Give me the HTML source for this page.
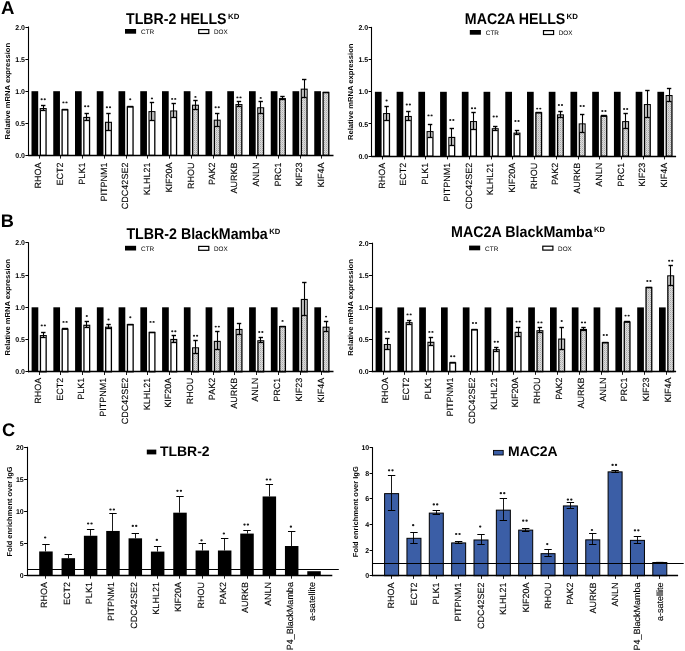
<!DOCTYPE html>
<html><head><meta charset="utf-8"><title>Figure</title>
<style>
html,body{margin:0;padding:0;background:#fff;}
body{width:685px;height:651px;overflow:hidden;}
svg{display:block;font-family:"Liberation Sans", sans-serif;will-change:transform;text-rendering:geometricPrecision;}
</style></head><body>
<svg width="685" height="651" viewBox="0 0 685 651" font-family='"Liberation Sans", sans-serif'>
<defs>
<pattern id="hatch" width="2" height="2" patternUnits="userSpaceOnUse">
<rect width="2" height="2" fill="#dcdcdc"/><rect width="1" height="1" fill="#aaaaaa"/><rect x="1" y="1" width="1" height="1" fill="#c4c4c4"/>
</pattern>
</defs>
<rect width="685" height="651" fill="#fff"/>
<line x1="28.5" y1="26.5" x2="28.5" y2="155.9" stroke="#000" stroke-width="1.1"/>
<line x1="25.4" y1="155.5" x2="28.6" y2="155.5" stroke="#000" stroke-width="1"/>
<text x="25" y="157.9" font-size="7" font-weight="bold" text-anchor="end" fill="#000" >0.0</text>
<line x1="25.4" y1="123.5" x2="28.6" y2="123.5" stroke="#000" stroke-width="1"/>
<text x="25" y="125.8" font-size="7" font-weight="bold" text-anchor="end" fill="#000" >0.5</text>
<line x1="25.4" y1="91.5" x2="28.6" y2="91.5" stroke="#000" stroke-width="1"/>
<text x="25" y="93.7" font-size="7" font-weight="bold" text-anchor="end" fill="#000" >1.0</text>
<line x1="25.4" y1="59.5" x2="28.6" y2="59.5" stroke="#000" stroke-width="1"/>
<text x="25" y="61.6" font-size="7" font-weight="bold" text-anchor="end" fill="#000" >1.5</text>
<line x1="25.4" y1="27.5" x2="28.6" y2="27.5" stroke="#000" stroke-width="1"/>
<text x="25" y="29.5" font-size="7" font-weight="bold" text-anchor="end" fill="#000" >2.0</text>
<text transform="translate(10.3,91.2) rotate(-90)" font-size="7.2" font-weight="bold" text-anchor="middle" textLength="96.5" lengthAdjust="spacingAndGlyphs">Relative mRNA expression</text>
<rect x="31.5" y="91.2" width="6.7" height="64.2" fill="#000"/>
<rect x="40.35" y="108.67" width="5.7" height="46.73" fill="#ffffff" stroke="#000" stroke-width="1.3"/>
<rect x="40.8" y="109.12" width="4.8" height="1.47" fill="#bcbcbc"/>
<line x1="43.5" y1="105.45" x2="43.5" y2="110.59" stroke="#000" stroke-width="1.1"/>
<line x1="41" y1="105.5" x2="45.4" y2="105.5" stroke="#000" stroke-width="1.4"/>
<line x1="40.7" y1="110.5" x2="45.7" y2="110.5" stroke="#000" stroke-width="1.3"/>
<line x1="39.5" y1="155.4" x2="39.5" y2="158.6" stroke="#000" stroke-width="0.9"/>
<text transform="translate(41.35,162.6) rotate(-90)" font-size="9" font-weight="normal" text-anchor="end" stroke="#000" stroke-width="0.12">RHOA</text>
<ellipse cx="41.65" cy="99.3" rx="1.1" ry="0.95" fill="#1a1a1a"/>
<ellipse cx="44.75" cy="99.3" rx="1.1" ry="0.95" fill="#1a1a1a"/>
<rect x="53.25" y="91.2" width="6.7" height="64.2" fill="#000"/>
<rect x="62.1" y="109.83" width="5.7" height="45.57" fill="#ffffff" stroke="#000" stroke-width="1.3"/>
<line x1="61.95" y1="109.5" x2="67.95" y2="109.5" stroke="#000" stroke-width="1.4"/>
<line x1="60.5" y1="155.4" x2="60.5" y2="158.6" stroke="#000" stroke-width="0.9"/>
<text transform="translate(63.1,162.6) rotate(-90)" font-size="9" font-weight="normal" text-anchor="end" stroke="#000" stroke-width="0.12">ECT2</text>
<ellipse cx="63.4" cy="102.4" rx="1.1" ry="0.95" fill="#1a1a1a"/>
<ellipse cx="66.5" cy="102.4" rx="1.1" ry="0.95" fill="#1a1a1a"/>
<rect x="75" y="91.2" width="6.7" height="64.2" fill="#000"/>
<rect x="83.85" y="117.53" width="5.7" height="37.87" fill="#ffffff" stroke="#000" stroke-width="1.3"/>
<rect x="84.3" y="117.98" width="4.8" height="2.11" fill="#bcbcbc"/>
<line x1="86.5" y1="113.67" x2="86.5" y2="120.09" stroke="#000" stroke-width="1.1"/>
<line x1="84.5" y1="113.5" x2="88.9" y2="113.5" stroke="#000" stroke-width="1.4"/>
<line x1="84.2" y1="120.5" x2="89.2" y2="120.5" stroke="#000" stroke-width="1.3"/>
<line x1="82.5" y1="155.4" x2="82.5" y2="158.6" stroke="#000" stroke-width="0.9"/>
<text transform="translate(84.85,162.6) rotate(-90)" font-size="9" font-weight="normal" text-anchor="end" stroke="#000" stroke-width="0.12">PLK1</text>
<ellipse cx="85.15" cy="106.3" rx="1.1" ry="0.95" fill="#1a1a1a"/>
<ellipse cx="88.25" cy="106.3" rx="1.1" ry="0.95" fill="#1a1a1a"/>
<rect x="96.75" y="91.2" width="6.7" height="64.2" fill="#000"/>
<rect x="105.6" y="122.41" width="5.7" height="32.99" fill="#ffffff" stroke="#000" stroke-width="1.3"/>
<rect x="106.05" y="122.86" width="4.8" height="7.25" fill="#bcbcbc"/>
<line x1="108.5" y1="113.41" x2="108.5" y2="130.11" stroke="#000" stroke-width="1.1"/>
<line x1="106.25" y1="113.5" x2="110.65" y2="113.5" stroke="#000" stroke-width="1.4"/>
<line x1="105.95" y1="130.5" x2="110.95" y2="130.5" stroke="#000" stroke-width="1.3"/>
<line x1="104.5" y1="155.4" x2="104.5" y2="158.6" stroke="#000" stroke-width="0.9"/>
<text transform="translate(106.6,162.6) rotate(-90)" font-size="9" font-weight="normal" text-anchor="end" stroke="#000" stroke-width="0.12">PITPNM1</text>
<ellipse cx="106.9" cy="107.3" rx="1.1" ry="0.95" fill="#1a1a1a"/>
<ellipse cx="110" cy="107.3" rx="1.1" ry="0.95" fill="#1a1a1a"/>
<rect x="118.5" y="91.2" width="6.7" height="64.2" fill="#000"/>
<rect x="127.35" y="106.94" width="5.7" height="48.46" fill="#ffffff" stroke="#000" stroke-width="1.3"/>
<line x1="127.2" y1="106.5" x2="133.2" y2="106.5" stroke="#000" stroke-width="1.4"/>
<line x1="126.5" y1="155.4" x2="126.5" y2="158.6" stroke="#000" stroke-width="0.9"/>
<text transform="translate(128.35,162.6) rotate(-90)" font-size="9" font-weight="normal" text-anchor="end" stroke="#000" stroke-width="0.12">CDC42SE2</text>
<ellipse cx="130.2" cy="99.3" rx="1.1" ry="0.95" fill="#1a1a1a"/>
<rect x="140.25" y="91.2" width="6.7" height="64.2" fill="#000"/>
<rect x="149.1" y="111.75" width="5.7" height="43.65" fill="#ffffff" stroke="#000" stroke-width="1.3"/>
<rect x="149.55" y="112.2" width="4.8" height="7.89" fill="#bcbcbc"/>
<line x1="151.5" y1="102.11" x2="151.5" y2="120.09" stroke="#000" stroke-width="1.1"/>
<line x1="149.75" y1="102.5" x2="154.15" y2="102.5" stroke="#000" stroke-width="1.4"/>
<line x1="149.45" y1="120.5" x2="154.45" y2="120.5" stroke="#000" stroke-width="1.3"/>
<line x1="147.5" y1="155.4" x2="147.5" y2="158.6" stroke="#000" stroke-width="0.9"/>
<text transform="translate(150.1,162.6) rotate(-90)" font-size="9" font-weight="normal" text-anchor="end" stroke="#000" stroke-width="0.12">KLHL21</text>
<ellipse cx="151.95" cy="98.4" rx="1.1" ry="0.95" fill="#1a1a1a"/>
<rect x="162" y="91.2" width="6.7" height="64.2" fill="#000"/>
<rect x="170.85" y="111.11" width="5.7" height="44.29" fill="#ffffff" stroke="#000" stroke-width="1.3"/>
<rect x="171.3" y="111.56" width="4.8" height="5.96" fill="#bcbcbc"/>
<line x1="173.5" y1="103.4" x2="173.5" y2="117.52" stroke="#000" stroke-width="1.1"/>
<line x1="171.5" y1="103.5" x2="175.9" y2="103.5" stroke="#000" stroke-width="1.4"/>
<line x1="171.2" y1="117.5" x2="176.2" y2="117.5" stroke="#000" stroke-width="1.3"/>
<line x1="169.5" y1="155.4" x2="169.5" y2="158.6" stroke="#000" stroke-width="0.9"/>
<text transform="translate(171.85,162.6) rotate(-90)" font-size="9" font-weight="normal" text-anchor="end" stroke="#000" stroke-width="0.12">KIF20A</text>
<ellipse cx="172.15" cy="98.9" rx="1.1" ry="0.95" fill="#1a1a1a"/>
<ellipse cx="175.25" cy="98.9" rx="1.1" ry="0.95" fill="#1a1a1a"/>
<rect x="183.75" y="91.2" width="6.7" height="64.2" fill="#000"/>
<rect x="192.6" y="105.33" width="5.7" height="50.07" fill="url(#hatch)" stroke="#000" stroke-width="1.3"/>
<rect x="193.05" y="105.78" width="4.8" height="3.39" fill="#bcbcbc"/>
<line x1="195.5" y1="100.19" x2="195.5" y2="109.18" stroke="#000" stroke-width="1.1"/>
<line x1="193.25" y1="100.5" x2="197.65" y2="100.5" stroke="#000" stroke-width="1.4"/>
<line x1="192.95" y1="109.5" x2="197.95" y2="109.5" stroke="#000" stroke-width="1.3"/>
<line x1="191.5" y1="155.4" x2="191.5" y2="158.6" stroke="#000" stroke-width="0.9"/>
<text transform="translate(193.6,162.6) rotate(-90)" font-size="9" font-weight="normal" text-anchor="end" stroke="#000" stroke-width="0.12">RHOU</text>
<ellipse cx="195.45" cy="96.9" rx="1.1" ry="0.95" fill="#1a1a1a"/>
<rect x="205.5" y="91.2" width="6.7" height="64.2" fill="#000"/>
<rect x="214.35" y="120.29" width="5.7" height="35.11" fill="url(#hatch)" stroke="#000" stroke-width="1.3"/>
<rect x="214.8" y="120.74" width="4.8" height="5.32" fill="#bcbcbc"/>
<line x1="217.5" y1="113.22" x2="217.5" y2="126.06" stroke="#000" stroke-width="1.1"/>
<line x1="215" y1="113.5" x2="219.4" y2="113.5" stroke="#000" stroke-width="1.4"/>
<line x1="214.7" y1="126.5" x2="219.7" y2="126.5" stroke="#000" stroke-width="1.3"/>
<line x1="213.5" y1="155.4" x2="213.5" y2="158.6" stroke="#000" stroke-width="0.9"/>
<text transform="translate(215.35,162.6) rotate(-90)" font-size="9" font-weight="normal" text-anchor="end" stroke="#000" stroke-width="0.12">PAK2</text>
<ellipse cx="215.65" cy="107.3" rx="1.1" ry="0.95" fill="#1a1a1a"/>
<ellipse cx="218.75" cy="107.3" rx="1.1" ry="0.95" fill="#1a1a1a"/>
<rect x="227.25" y="91.2" width="6.7" height="64.2" fill="#000"/>
<rect x="236.1" y="104.69" width="5.7" height="50.71" fill="url(#hatch)" stroke="#000" stroke-width="1.3"/>
<rect x="236.55" y="105.14" width="4.8" height="1.15" fill="#bcbcbc"/>
<line x1="238.5" y1="101.79" x2="238.5" y2="106.29" stroke="#000" stroke-width="1.1"/>
<line x1="236.75" y1="101.5" x2="241.15" y2="101.5" stroke="#000" stroke-width="1.4"/>
<line x1="236.45" y1="106.5" x2="241.45" y2="106.5" stroke="#000" stroke-width="1.3"/>
<line x1="234.5" y1="155.4" x2="234.5" y2="158.6" stroke="#000" stroke-width="0.9"/>
<text transform="translate(237.1,162.6) rotate(-90)" font-size="9" font-weight="normal" text-anchor="end" stroke="#000" stroke-width="0.12">AURKB</text>
<ellipse cx="237.4" cy="97.4" rx="1.1" ry="0.95" fill="#1a1a1a"/>
<ellipse cx="240.5" cy="97.4" rx="1.1" ry="0.95" fill="#1a1a1a"/>
<rect x="249" y="91.2" width="6.7" height="64.2" fill="#000"/>
<rect x="257.85" y="107.9" width="5.7" height="47.5" fill="url(#hatch)" stroke="#000" stroke-width="1.3"/>
<rect x="258.3" y="108.35" width="4.8" height="4.68" fill="#bcbcbc"/>
<line x1="260.5" y1="101.47" x2="260.5" y2="113.03" stroke="#000" stroke-width="1.1"/>
<line x1="258.5" y1="101.5" x2="262.9" y2="101.5" stroke="#000" stroke-width="1.4"/>
<line x1="258.2" y1="113.5" x2="263.2" y2="113.5" stroke="#000" stroke-width="1.3"/>
<line x1="256.5" y1="155.4" x2="256.5" y2="158.6" stroke="#000" stroke-width="0.9"/>
<text transform="translate(258.85,162.6) rotate(-90)" font-size="9" font-weight="normal" text-anchor="end" stroke="#000" stroke-width="0.12">ANLN</text>
<ellipse cx="260.7" cy="97.9" rx="1.1" ry="0.95" fill="#1a1a1a"/>
<rect x="270.75" y="91.2" width="6.7" height="64.2" fill="#000"/>
<rect x="279.6" y="98.72" width="5.7" height="56.68" fill="url(#hatch)" stroke="#000" stroke-width="1.3"/>
<rect x="280.05" y="99.17" width="4.8" height="0.51" fill="#bcbcbc"/>
<line x1="282.5" y1="96.46" x2="282.5" y2="99.67" stroke="#000" stroke-width="1.1"/>
<line x1="280.25" y1="96.5" x2="284.65" y2="96.5" stroke="#000" stroke-width="1.4"/>
<line x1="279.95" y1="99.5" x2="284.95" y2="99.5" stroke="#000" stroke-width="1.3"/>
<line x1="278.5" y1="155.4" x2="278.5" y2="158.6" stroke="#000" stroke-width="0.9"/>
<text transform="translate(280.6,162.6) rotate(-90)" font-size="9" font-weight="normal" text-anchor="end" stroke="#000" stroke-width="0.12">PRC1</text>
<rect x="292.5" y="91.2" width="6.7" height="64.2" fill="#000"/>
<rect x="301.35" y="89.28" width="5.7" height="66.12" fill="url(#hatch)" stroke="#000" stroke-width="1.3"/>
<rect x="301.8" y="89.73" width="4.8" height="7.89" fill="#bcbcbc"/>
<line x1="304.5" y1="79.64" x2="304.5" y2="97.62" stroke="#000" stroke-width="1.1"/>
<line x1="302" y1="79.5" x2="306.4" y2="79.5" stroke="#000" stroke-width="1.4"/>
<line x1="301.7" y1="97.5" x2="306.7" y2="97.5" stroke="#000" stroke-width="1.3"/>
<line x1="300.5" y1="155.4" x2="300.5" y2="158.6" stroke="#000" stroke-width="0.9"/>
<text transform="translate(302.35,162.6) rotate(-90)" font-size="9" font-weight="normal" text-anchor="end" stroke="#000" stroke-width="0.12">KIF23</text>
<rect x="314.25" y="91.2" width="6.7" height="64.2" fill="#000"/>
<rect x="323.1" y="92.49" width="5.7" height="62.91" fill="url(#hatch)" stroke="#000" stroke-width="1.3"/>
<line x1="322.95" y1="92.5" x2="328.95" y2="92.5" stroke="#000" stroke-width="1.4"/>
<line x1="321.5" y1="155.4" x2="321.5" y2="158.6" stroke="#000" stroke-width="0.9"/>
<text transform="translate(324.1,162.6) rotate(-90)" font-size="9" font-weight="normal" text-anchor="end" stroke="#000" stroke-width="0.12">KIF4A</text>
<line x1="28.1" y1="155.5" x2="333.5" y2="155.5" stroke="#000" stroke-width="1.3"/>
<text x="126" y="23.6" font-size="15.5" font-weight="bold" text-anchor="start" fill="#000" textLength="100.5" lengthAdjust="spacingAndGlyphs" >TLBR-2 HELLS</text>
<text x="228.1" y="18.7" font-size="7.6" font-weight="bold" text-anchor="start" fill="#000" textLength="11.3" lengthAdjust="spacingAndGlyphs" >KD</text>
<rect x="125" y="29" width="11.1" height="4.7" fill="#000"/>
<text x="141" y="33.9" font-size="6.5" font-weight="normal" text-anchor="start" fill="#000" textLength="13.2" lengthAdjust="spacingAndGlyphs" >CTR</text>
<rect x="198.7" y="29.6" width="10.1" height="3.9" fill="#fff" stroke="#000" stroke-width="1.2"/>
<text x="214" y="33.9" font-size="6.5" font-weight="normal" text-anchor="start" fill="#000" textLength="13.7" lengthAdjust="spacingAndGlyphs" >DOX</text>
<line x1="371.5" y1="26.9" x2="371.5" y2="156.7" stroke="#000" stroke-width="1.1"/>
<line x1="368.6" y1="156.5" x2="371.8" y2="156.5" stroke="#000" stroke-width="1"/>
<text x="368.2" y="158.7" font-size="7" font-weight="bold" text-anchor="end" fill="#000" >0.0</text>
<line x1="368.6" y1="123.5" x2="371.8" y2="123.5" stroke="#000" stroke-width="1"/>
<text x="368.2" y="126.5" font-size="7" font-weight="bold" text-anchor="end" fill="#000" >0.5</text>
<line x1="368.6" y1="91.5" x2="371.8" y2="91.5" stroke="#000" stroke-width="1"/>
<text x="368.2" y="94.3" font-size="7" font-weight="bold" text-anchor="end" fill="#000" >1.0</text>
<line x1="368.6" y1="59.5" x2="371.8" y2="59.5" stroke="#000" stroke-width="1"/>
<text x="368.2" y="62.1" font-size="7" font-weight="bold" text-anchor="end" fill="#000" >1.5</text>
<line x1="368.6" y1="27.5" x2="371.8" y2="27.5" stroke="#000" stroke-width="1"/>
<text x="368.2" y="29.9" font-size="7" font-weight="bold" text-anchor="end" fill="#000" >2.0</text>
<text transform="translate(352.6,91.8) rotate(-90)" font-size="7.2" font-weight="bold" text-anchor="middle" textLength="96.5" lengthAdjust="spacingAndGlyphs">Relative mRNA expression</text>
<rect x="374.9" y="91.8" width="6.7" height="64.4" fill="#000"/>
<rect x="383.75" y="113.7" width="5.7" height="42.5" fill="#ffffff" stroke="#000" stroke-width="1.3"/>
<rect x="384.2" y="114.15" width="4.8" height="5.98" fill="#bcbcbc"/>
<line x1="386.5" y1="105.97" x2="386.5" y2="120.14" stroke="#000" stroke-width="1.1"/>
<line x1="384.4" y1="106.5" x2="388.8" y2="106.5" stroke="#000" stroke-width="1.4"/>
<line x1="384.1" y1="120.5" x2="389.1" y2="120.5" stroke="#000" stroke-width="1.3"/>
<line x1="382.5" y1="156.2" x2="382.5" y2="159.4" stroke="#000" stroke-width="0.9"/>
<text transform="translate(384.65,162.7) rotate(-90)" font-size="9" font-weight="normal" text-anchor="end" stroke="#000" stroke-width="0.12">RHOA</text>
<ellipse cx="386.6" cy="100.5" rx="1.1" ry="0.95" fill="#1a1a1a"/>
<rect x="396.63" y="91.8" width="6.7" height="64.4" fill="#000"/>
<rect x="405.48" y="116.6" width="5.7" height="39.6" fill="#ffffff" stroke="#000" stroke-width="1.3"/>
<rect x="405.93" y="117.05" width="4.8" height="3.09" fill="#bcbcbc"/>
<line x1="408.5" y1="111.76" x2="408.5" y2="120.14" stroke="#000" stroke-width="1.1"/>
<line x1="406.13" y1="111.5" x2="410.53" y2="111.5" stroke="#000" stroke-width="1.4"/>
<line x1="405.83" y1="120.5" x2="410.83" y2="120.5" stroke="#000" stroke-width="1.3"/>
<line x1="404.5" y1="156.2" x2="404.5" y2="159.4" stroke="#000" stroke-width="0.9"/>
<text transform="translate(406.38,162.7) rotate(-90)" font-size="9" font-weight="normal" text-anchor="end" stroke="#000" stroke-width="0.12">ECT2</text>
<ellipse cx="406.78" cy="104.5" rx="1.1" ry="0.95" fill="#1a1a1a"/>
<ellipse cx="409.88" cy="104.5" rx="1.1" ry="0.95" fill="#1a1a1a"/>
<rect x="418.36" y="91.8" width="6.7" height="64.4" fill="#000"/>
<rect x="427.21" y="131.73" width="5.7" height="24.47" fill="#ffffff" stroke="#000" stroke-width="1.3"/>
<rect x="427.66" y="132.18" width="4.8" height="5.34" fill="#bcbcbc"/>
<line x1="430.5" y1="124.64" x2="430.5" y2="137.52" stroke="#000" stroke-width="1.1"/>
<line x1="427.86" y1="124.5" x2="432.26" y2="124.5" stroke="#000" stroke-width="1.4"/>
<line x1="427.56" y1="137.5" x2="432.56" y2="137.5" stroke="#000" stroke-width="1.3"/>
<line x1="425.5" y1="156.2" x2="425.5" y2="159.4" stroke="#000" stroke-width="0.9"/>
<text transform="translate(428.11,162.7) rotate(-90)" font-size="9" font-weight="normal" text-anchor="end" stroke="#000" stroke-width="0.12">PLK1</text>
<ellipse cx="428.51" cy="115.4" rx="1.1" ry="0.95" fill="#1a1a1a"/>
<ellipse cx="431.61" cy="115.4" rx="1.1" ry="0.95" fill="#1a1a1a"/>
<rect x="440.09" y="91.8" width="6.7" height="64.4" fill="#000"/>
<rect x="448.94" y="137.53" width="5.7" height="18.67" fill="#ffffff" stroke="#000" stroke-width="1.3"/>
<rect x="449.39" y="137.98" width="4.8" height="7.59" fill="#bcbcbc"/>
<line x1="451.5" y1="128.19" x2="451.5" y2="145.57" stroke="#000" stroke-width="1.1"/>
<line x1="449.59" y1="128.5" x2="453.99" y2="128.5" stroke="#000" stroke-width="1.4"/>
<line x1="449.29" y1="145.5" x2="454.29" y2="145.5" stroke="#000" stroke-width="1.3"/>
<line x1="447.5" y1="156.2" x2="447.5" y2="159.4" stroke="#000" stroke-width="0.9"/>
<text transform="translate(449.84,162.7) rotate(-90)" font-size="9" font-weight="normal" text-anchor="end" stroke="#000" stroke-width="0.12">PITPNM1</text>
<ellipse cx="450.24" cy="120" rx="1.1" ry="0.95" fill="#1a1a1a"/>
<ellipse cx="453.34" cy="120" rx="1.1" ry="0.95" fill="#1a1a1a"/>
<rect x="461.82" y="91.8" width="6.7" height="64.4" fill="#000"/>
<rect x="470.67" y="121.69" width="5.7" height="34.51" fill="#ffffff" stroke="#000" stroke-width="1.3"/>
<rect x="471.12" y="122.14" width="4.8" height="7.27" fill="#bcbcbc"/>
<line x1="473.5" y1="112.67" x2="473.5" y2="129.41" stroke="#000" stroke-width="1.1"/>
<line x1="471.32" y1="112.5" x2="475.72" y2="112.5" stroke="#000" stroke-width="1.4"/>
<line x1="471.02" y1="129.5" x2="476.02" y2="129.5" stroke="#000" stroke-width="1.3"/>
<line x1="469.5" y1="156.2" x2="469.5" y2="159.4" stroke="#000" stroke-width="0.9"/>
<text transform="translate(471.57,162.7) rotate(-90)" font-size="9" font-weight="normal" text-anchor="end" stroke="#000" stroke-width="0.12">CDC42SE2</text>
<ellipse cx="471.97" cy="108.3" rx="1.1" ry="0.95" fill="#1a1a1a"/>
<ellipse cx="475.07" cy="108.3" rx="1.1" ry="0.95" fill="#1a1a1a"/>
<rect x="483.55" y="91.8" width="6.7" height="64.4" fill="#000"/>
<rect x="492.4" y="128.84" width="5.7" height="27.36" fill="#ffffff" stroke="#000" stroke-width="1.3"/>
<rect x="492.85" y="129.29" width="4.8" height="0.83" fill="#bcbcbc"/>
<line x1="495.5" y1="126.25" x2="495.5" y2="130.12" stroke="#000" stroke-width="1.1"/>
<line x1="493.05" y1="126.5" x2="497.45" y2="126.5" stroke="#000" stroke-width="1.4"/>
<line x1="492.75" y1="130.5" x2="497.75" y2="130.5" stroke="#000" stroke-width="1.3"/>
<line x1="491.5" y1="156.2" x2="491.5" y2="159.4" stroke="#000" stroke-width="0.9"/>
<text transform="translate(493.3,162.7) rotate(-90)" font-size="9" font-weight="normal" text-anchor="end" stroke="#000" stroke-width="0.12">KLHL21</text>
<ellipse cx="493.7" cy="116.5" rx="1.1" ry="0.95" fill="#1a1a1a"/>
<ellipse cx="496.8" cy="116.5" rx="1.1" ry="0.95" fill="#1a1a1a"/>
<rect x="505.28" y="91.8" width="6.7" height="64.4" fill="#000"/>
<rect x="514.13" y="133.22" width="5.7" height="22.98" fill="#ffffff" stroke="#000" stroke-width="1.3"/>
<rect x="514.58" y="133.67" width="4.8" height="1.15" fill="#bcbcbc"/>
<line x1="516.5" y1="130.31" x2="516.5" y2="134.82" stroke="#000" stroke-width="1.1"/>
<line x1="514.78" y1="130.5" x2="519.18" y2="130.5" stroke="#000" stroke-width="1.4"/>
<line x1="514.48" y1="134.5" x2="519.48" y2="134.5" stroke="#000" stroke-width="1.3"/>
<line x1="512.5" y1="156.2" x2="512.5" y2="159.4" stroke="#000" stroke-width="0.9"/>
<text transform="translate(515.03,162.7) rotate(-90)" font-size="9" font-weight="normal" text-anchor="end" stroke="#000" stroke-width="0.12">KIF20A</text>
<ellipse cx="515.43" cy="121" rx="1.1" ry="0.95" fill="#1a1a1a"/>
<ellipse cx="518.53" cy="121" rx="1.1" ry="0.95" fill="#1a1a1a"/>
<rect x="527.01" y="91.8" width="6.7" height="64.4" fill="#000"/>
<rect x="535.86" y="112.86" width="5.7" height="43.34" fill="url(#hatch)" stroke="#000" stroke-width="1.3"/>
<line x1="535.71" y1="112.5" x2="541.71" y2="112.5" stroke="#000" stroke-width="1.4"/>
<line x1="534.5" y1="156.2" x2="534.5" y2="159.4" stroke="#000" stroke-width="0.9"/>
<text transform="translate(536.76,162.7) rotate(-90)" font-size="9" font-weight="normal" text-anchor="end" stroke="#000" stroke-width="0.12">RHOU</text>
<ellipse cx="537.16" cy="108.6" rx="1.1" ry="0.95" fill="#1a1a1a"/>
<ellipse cx="540.26" cy="108.6" rx="1.1" ry="0.95" fill="#1a1a1a"/>
<rect x="548.74" y="91.8" width="6.7" height="64.4" fill="#000"/>
<rect x="557.59" y="114.99" width="5.7" height="41.21" fill="url(#hatch)" stroke="#000" stroke-width="1.3"/>
<rect x="558.04" y="115.44" width="4.8" height="2.12" fill="#bcbcbc"/>
<line x1="560.5" y1="111.12" x2="560.5" y2="117.56" stroke="#000" stroke-width="1.1"/>
<line x1="558.24" y1="111.5" x2="562.64" y2="111.5" stroke="#000" stroke-width="1.4"/>
<line x1="557.94" y1="117.5" x2="562.94" y2="117.5" stroke="#000" stroke-width="1.3"/>
<line x1="556.5" y1="156.2" x2="556.5" y2="159.4" stroke="#000" stroke-width="0.9"/>
<text transform="translate(558.49,162.7) rotate(-90)" font-size="9" font-weight="normal" text-anchor="end" stroke="#000" stroke-width="0.12">PAK2</text>
<ellipse cx="558.89" cy="105" rx="1.1" ry="0.95" fill="#1a1a1a"/>
<ellipse cx="561.99" cy="105" rx="1.1" ry="0.95" fill="#1a1a1a"/>
<rect x="570.47" y="91.8" width="6.7" height="64.4" fill="#000"/>
<rect x="579.32" y="124.01" width="5.7" height="32.19" fill="url(#hatch)" stroke="#000" stroke-width="1.3"/>
<rect x="579.77" y="124.46" width="4.8" height="7.92" fill="#bcbcbc"/>
<line x1="582.5" y1="114.34" x2="582.5" y2="132.37" stroke="#000" stroke-width="1.1"/>
<line x1="579.97" y1="114.5" x2="584.37" y2="114.5" stroke="#000" stroke-width="1.4"/>
<line x1="579.67" y1="132.5" x2="584.67" y2="132.5" stroke="#000" stroke-width="1.3"/>
<line x1="578.5" y1="156.2" x2="578.5" y2="159.4" stroke="#000" stroke-width="0.9"/>
<text transform="translate(580.22,162.7) rotate(-90)" font-size="9" font-weight="normal" text-anchor="end" stroke="#000" stroke-width="0.12">AURKB</text>
<ellipse cx="580.62" cy="106" rx="1.1" ry="0.95" fill="#1a1a1a"/>
<ellipse cx="583.72" cy="106" rx="1.1" ry="0.95" fill="#1a1a1a"/>
<rect x="592.2" y="91.8" width="6.7" height="64.4" fill="#000"/>
<rect x="601.05" y="116.28" width="5.7" height="39.92" fill="url(#hatch)" stroke="#000" stroke-width="1.3"/>
<line x1="600.9" y1="115.5" x2="606.9" y2="115.5" stroke="#000" stroke-width="1.4"/>
<line x1="599.5" y1="156.2" x2="599.5" y2="159.4" stroke="#000" stroke-width="0.9"/>
<text transform="translate(601.95,162.7) rotate(-90)" font-size="9" font-weight="normal" text-anchor="end" stroke="#000" stroke-width="0.12">ANLN</text>
<ellipse cx="602.35" cy="111" rx="1.1" ry="0.95" fill="#1a1a1a"/>
<ellipse cx="605.45" cy="111" rx="1.1" ry="0.95" fill="#1a1a1a"/>
<rect x="613.93" y="91.8" width="6.7" height="64.4" fill="#000"/>
<rect x="622.78" y="121.75" width="5.7" height="34.45" fill="url(#hatch)" stroke="#000" stroke-width="1.3"/>
<rect x="623.23" y="122.2" width="4.8" height="6.63" fill="#bcbcbc"/>
<line x1="625.5" y1="113.37" x2="625.5" y2="128.83" stroke="#000" stroke-width="1.1"/>
<line x1="623.43" y1="113.5" x2="627.83" y2="113.5" stroke="#000" stroke-width="1.4"/>
<line x1="623.13" y1="128.5" x2="628.13" y2="128.5" stroke="#000" stroke-width="1.3"/>
<line x1="621.5" y1="156.2" x2="621.5" y2="159.4" stroke="#000" stroke-width="0.9"/>
<text transform="translate(623.68,162.7) rotate(-90)" font-size="9" font-weight="normal" text-anchor="end" stroke="#000" stroke-width="0.12">PRC1</text>
<ellipse cx="624.08" cy="109" rx="1.1" ry="0.95" fill="#1a1a1a"/>
<ellipse cx="627.18" cy="109" rx="1.1" ry="0.95" fill="#1a1a1a"/>
<rect x="635.66" y="91.8" width="6.7" height="64.4" fill="#000"/>
<rect x="644.51" y="104.69" width="5.7" height="51.51" fill="url(#hatch)" stroke="#000" stroke-width="1.3"/>
<rect x="644.96" y="105.14" width="4.8" height="12.42" fill="#bcbcbc"/>
<line x1="647.5" y1="90.51" x2="647.5" y2="117.56" stroke="#000" stroke-width="1.1"/>
<line x1="645.16" y1="90.5" x2="649.56" y2="90.5" stroke="#000" stroke-width="1.4"/>
<line x1="644.86" y1="117.5" x2="649.86" y2="117.5" stroke="#000" stroke-width="1.3"/>
<line x1="643.5" y1="156.2" x2="643.5" y2="159.4" stroke="#000" stroke-width="0.9"/>
<text transform="translate(645.41,162.7) rotate(-90)" font-size="9" font-weight="normal" text-anchor="end" stroke="#000" stroke-width="0.12">KIF23</text>
<rect x="657.39" y="91.8" width="6.7" height="64.4" fill="#000"/>
<rect x="666.24" y="95.67" width="5.7" height="60.53" fill="url(#hatch)" stroke="#000" stroke-width="1.3"/>
<rect x="666.69" y="96.12" width="4.8" height="5.34" fill="#bcbcbc"/>
<line x1="669.5" y1="88.58" x2="669.5" y2="101.46" stroke="#000" stroke-width="1.1"/>
<line x1="666.89" y1="88.5" x2="671.29" y2="88.5" stroke="#000" stroke-width="1.4"/>
<line x1="666.59" y1="101.5" x2="671.59" y2="101.5" stroke="#000" stroke-width="1.3"/>
<line x1="664.5" y1="156.2" x2="664.5" y2="159.4" stroke="#000" stroke-width="0.9"/>
<text transform="translate(667.14,162.7) rotate(-90)" font-size="9" font-weight="normal" text-anchor="end" stroke="#000" stroke-width="0.12">KIF4A</text>
<line x1="371.3" y1="156.5" x2="676.1" y2="156.5" stroke="#000" stroke-width="1.3"/>
<text x="464.8" y="24.1" font-size="15.5" font-weight="bold" text-anchor="start" fill="#000" textLength="100.5" lengthAdjust="spacingAndGlyphs" >MAC2A HELLS</text>
<text x="566.6" y="19.2" font-size="7.6" font-weight="bold" text-anchor="start" fill="#000" textLength="11.3" lengthAdjust="spacingAndGlyphs" >KD</text>
<rect x="469.8" y="30" width="11.1" height="4.7" fill="#000"/>
<text x="485.8" y="34.9" font-size="6.5" font-weight="normal" text-anchor="start" fill="#000" textLength="13.2" lengthAdjust="spacingAndGlyphs" >CTR</text>
<rect x="543.5" y="30.6" width="10.1" height="3.9" fill="#fff" stroke="#000" stroke-width="1.2"/>
<text x="558.8" y="34.9" font-size="6.5" font-weight="normal" text-anchor="start" fill="#000" textLength="13.7" lengthAdjust="spacingAndGlyphs" >DOX</text>
<line x1="28.5" y1="242.3" x2="28.5" y2="372.3" stroke="#000" stroke-width="1.1"/>
<line x1="25.4" y1="371.5" x2="28.6" y2="371.5" stroke="#000" stroke-width="1"/>
<text x="25" y="374.3" font-size="7" font-weight="bold" text-anchor="end" fill="#000" >0.0</text>
<line x1="25.4" y1="339.5" x2="28.6" y2="339.5" stroke="#000" stroke-width="1"/>
<text x="25" y="342.05" font-size="7" font-weight="bold" text-anchor="end" fill="#000" >0.5</text>
<line x1="25.4" y1="307.5" x2="28.6" y2="307.5" stroke="#000" stroke-width="1"/>
<text x="25" y="309.8" font-size="7" font-weight="bold" text-anchor="end" fill="#000" >1.0</text>
<line x1="25.4" y1="275.5" x2="28.6" y2="275.5" stroke="#000" stroke-width="1"/>
<text x="25" y="277.55" font-size="7" font-weight="bold" text-anchor="end" fill="#000" >1.5</text>
<line x1="25.4" y1="242.5" x2="28.6" y2="242.5" stroke="#000" stroke-width="1"/>
<text x="25" y="245.3" font-size="7" font-weight="bold" text-anchor="end" fill="#000" >2.0</text>
<text transform="translate(10.3,307.3) rotate(-90)" font-size="7.2" font-weight="bold" text-anchor="middle" textLength="96.5" lengthAdjust="spacingAndGlyphs">Relative mRNA expression</text>
<rect x="31.6" y="307.3" width="6.7" height="64.5" fill="#000"/>
<rect x="40.45" y="335.69" width="5.7" height="36.11" fill="#ffffff" stroke="#000" stroke-width="1.3"/>
<rect x="40.9" y="336.14" width="4.8" height="1.16" fill="#bcbcbc"/>
<line x1="43.5" y1="332.78" x2="43.5" y2="337.29" stroke="#000" stroke-width="1.1"/>
<line x1="41.1" y1="332.5" x2="45.5" y2="332.5" stroke="#000" stroke-width="1.4"/>
<line x1="40.8" y1="337.5" x2="45.8" y2="337.5" stroke="#000" stroke-width="1.3"/>
<line x1="39.5" y1="371.8" x2="39.5" y2="375" stroke="#000" stroke-width="0.9"/>
<text transform="translate(40.75,377.8) rotate(-90)" font-size="9" font-weight="normal" text-anchor="end" stroke="#000" stroke-width="0.12">RHOA</text>
<ellipse cx="41.75" cy="325.4" rx="1.1" ry="0.95" fill="#1a1a1a"/>
<ellipse cx="44.85" cy="325.4" rx="1.1" ry="0.95" fill="#1a1a1a"/>
<rect x="53.35" y="307.3" width="6.7" height="64.5" fill="#000"/>
<rect x="62.2" y="329.24" width="5.7" height="42.56" fill="#ffffff" stroke="#000" stroke-width="1.3"/>
<line x1="62.05" y1="328.5" x2="68.05" y2="328.5" stroke="#000" stroke-width="1.4"/>
<line x1="60.5" y1="371.8" x2="60.5" y2="375" stroke="#000" stroke-width="0.9"/>
<text transform="translate(62.5,377.8) rotate(-90)" font-size="9" font-weight="normal" text-anchor="end" stroke="#000" stroke-width="0.12">ECT2</text>
<ellipse cx="63.5" cy="321.9" rx="1.1" ry="0.95" fill="#1a1a1a"/>
<ellipse cx="66.6" cy="321.9" rx="1.1" ry="0.95" fill="#1a1a1a"/>
<rect x="75.1" y="307.3" width="6.7" height="64.5" fill="#000"/>
<rect x="83.95" y="325.37" width="5.7" height="46.43" fill="#ffffff" stroke="#000" stroke-width="1.3"/>
<rect x="84.4" y="325.82" width="4.8" height="2.12" fill="#bcbcbc"/>
<line x1="86.5" y1="321.49" x2="86.5" y2="327.94" stroke="#000" stroke-width="1.1"/>
<line x1="84.6" y1="321.5" x2="89" y2="321.5" stroke="#000" stroke-width="1.4"/>
<line x1="84.3" y1="327.5" x2="89.3" y2="327.5" stroke="#000" stroke-width="1.3"/>
<line x1="82.5" y1="371.8" x2="82.5" y2="375" stroke="#000" stroke-width="0.9"/>
<text transform="translate(84.25,377.8) rotate(-90)" font-size="9" font-weight="normal" text-anchor="end" stroke="#000" stroke-width="0.12">PLK1</text>
<ellipse cx="86.8" cy="316" rx="1.1" ry="0.95" fill="#1a1a1a"/>
<rect x="96.85" y="307.3" width="6.7" height="64.5" fill="#000"/>
<rect x="105.7" y="327.3" width="5.7" height="44.5" fill="#ffffff" stroke="#000" stroke-width="1.3"/>
<rect x="106.15" y="327.75" width="4.8" height="0.84" fill="#bcbcbc"/>
<line x1="108.5" y1="324.72" x2="108.5" y2="328.59" stroke="#000" stroke-width="1.1"/>
<line x1="106.35" y1="324.5" x2="110.75" y2="324.5" stroke="#000" stroke-width="1.4"/>
<line x1="106.05" y1="328.5" x2="111.05" y2="328.5" stroke="#000" stroke-width="1.3"/>
<line x1="104.5" y1="371.8" x2="104.5" y2="375" stroke="#000" stroke-width="0.9"/>
<text transform="translate(106,377.8) rotate(-90)" font-size="9" font-weight="normal" text-anchor="end" stroke="#000" stroke-width="0.12">PITPNM1</text>
<ellipse cx="108.55" cy="319.5" rx="1.1" ry="0.95" fill="#1a1a1a"/>
<rect x="118.6" y="307.3" width="6.7" height="64.5" fill="#000"/>
<rect x="127.45" y="324.72" width="5.7" height="47.08" fill="#ffffff" stroke="#000" stroke-width="1.3"/>
<line x1="127.3" y1="324.5" x2="133.3" y2="324.5" stroke="#000" stroke-width="1.4"/>
<line x1="126.5" y1="371.8" x2="126.5" y2="375" stroke="#000" stroke-width="0.9"/>
<text transform="translate(127.75,377.8) rotate(-90)" font-size="9" font-weight="normal" text-anchor="end" stroke="#000" stroke-width="0.12">CDC42SE2</text>
<ellipse cx="130.3" cy="317.2" rx="1.1" ry="0.95" fill="#1a1a1a"/>
<rect x="140.35" y="307.3" width="6.7" height="64.5" fill="#000"/>
<rect x="149.2" y="332.46" width="5.7" height="39.34" fill="#ffffff" stroke="#000" stroke-width="1.3"/>
<line x1="149.05" y1="332.5" x2="155.05" y2="332.5" stroke="#000" stroke-width="1.4"/>
<line x1="147.5" y1="371.8" x2="147.5" y2="375" stroke="#000" stroke-width="0.9"/>
<text transform="translate(149.5,377.8) rotate(-90)" font-size="9" font-weight="normal" text-anchor="end" stroke="#000" stroke-width="0.12">KLHL21</text>
<ellipse cx="150.5" cy="321.9" rx="1.1" ry="0.95" fill="#1a1a1a"/>
<ellipse cx="153.6" cy="321.9" rx="1.1" ry="0.95" fill="#1a1a1a"/>
<rect x="162.1" y="307.3" width="6.7" height="64.5" fill="#000"/>
<rect x="170.95" y="339.56" width="5.7" height="32.24" fill="#ffffff" stroke="#000" stroke-width="1.3"/>
<rect x="171.4" y="340.01" width="4.8" height="2.12" fill="#bcbcbc"/>
<line x1="173.5" y1="335.68" x2="173.5" y2="342.13" stroke="#000" stroke-width="1.1"/>
<line x1="171.6" y1="335.5" x2="176" y2="335.5" stroke="#000" stroke-width="1.4"/>
<line x1="171.3" y1="342.5" x2="176.3" y2="342.5" stroke="#000" stroke-width="1.3"/>
<line x1="169.5" y1="371.8" x2="169.5" y2="375" stroke="#000" stroke-width="0.9"/>
<text transform="translate(171.25,377.8) rotate(-90)" font-size="9" font-weight="normal" text-anchor="end" stroke="#000" stroke-width="0.12">KIF20A</text>
<ellipse cx="172.25" cy="331.2" rx="1.1" ry="0.95" fill="#1a1a1a"/>
<ellipse cx="175.35" cy="331.2" rx="1.1" ry="0.95" fill="#1a1a1a"/>
<rect x="183.85" y="307.3" width="6.7" height="64.5" fill="#000"/>
<rect x="192.7" y="347.94" width="5.7" height="23.86" fill="url(#hatch)" stroke="#000" stroke-width="1.3"/>
<rect x="193.15" y="348.39" width="4.8" height="5.35" fill="#bcbcbc"/>
<line x1="195.5" y1="340.84" x2="195.5" y2="353.74" stroke="#000" stroke-width="1.1"/>
<line x1="193.35" y1="340.5" x2="197.75" y2="340.5" stroke="#000" stroke-width="1.4"/>
<line x1="193.05" y1="353.5" x2="198.05" y2="353.5" stroke="#000" stroke-width="1.3"/>
<line x1="191.5" y1="371.8" x2="191.5" y2="375" stroke="#000" stroke-width="0.9"/>
<text transform="translate(193,377.8) rotate(-90)" font-size="9" font-weight="normal" text-anchor="end" stroke="#000" stroke-width="0.12">RHOU</text>
<ellipse cx="194" cy="335.8" rx="1.1" ry="0.95" fill="#1a1a1a"/>
<ellipse cx="197.1" cy="335.8" rx="1.1" ry="0.95" fill="#1a1a1a"/>
<rect x="205.6" y="307.3" width="6.7" height="64.5" fill="#000"/>
<rect x="214.45" y="341.49" width="5.7" height="30.31" fill="url(#hatch)" stroke="#000" stroke-width="1.3"/>
<rect x="214.9" y="341.94" width="4.8" height="7.93" fill="#bcbcbc"/>
<line x1="217.5" y1="331.81" x2="217.5" y2="349.87" stroke="#000" stroke-width="1.1"/>
<line x1="215.1" y1="331.5" x2="219.5" y2="331.5" stroke="#000" stroke-width="1.4"/>
<line x1="214.8" y1="349.5" x2="219.8" y2="349.5" stroke="#000" stroke-width="1.3"/>
<line x1="213.5" y1="371.8" x2="213.5" y2="375" stroke="#000" stroke-width="0.9"/>
<text transform="translate(214.75,377.8) rotate(-90)" font-size="9" font-weight="normal" text-anchor="end" stroke="#000" stroke-width="0.12">PAK2</text>
<ellipse cx="215.75" cy="326.6" rx="1.1" ry="0.95" fill="#1a1a1a"/>
<ellipse cx="218.85" cy="326.6" rx="1.1" ry="0.95" fill="#1a1a1a"/>
<rect x="227.35" y="307.3" width="6.7" height="64.5" fill="#000"/>
<rect x="236.2" y="329.56" width="5.7" height="42.24" fill="url(#hatch)" stroke="#000" stroke-width="1.3"/>
<rect x="236.65" y="330.01" width="4.8" height="4.06" fill="#bcbcbc"/>
<line x1="239.5" y1="323.75" x2="239.5" y2="334.07" stroke="#000" stroke-width="1.1"/>
<line x1="236.85" y1="323.5" x2="241.25" y2="323.5" stroke="#000" stroke-width="1.4"/>
<line x1="236.55" y1="334.5" x2="241.55" y2="334.5" stroke="#000" stroke-width="1.3"/>
<line x1="234.5" y1="371.8" x2="234.5" y2="375" stroke="#000" stroke-width="0.9"/>
<text transform="translate(236.5,377.8) rotate(-90)" font-size="9" font-weight="normal" text-anchor="end" stroke="#000" stroke-width="0.12">AURKB</text>
<rect x="249.1" y="307.3" width="6.7" height="64.5" fill="#000"/>
<rect x="257.95" y="340.84" width="5.7" height="30.96" fill="url(#hatch)" stroke="#000" stroke-width="1.3"/>
<rect x="258.4" y="341.3" width="4.8" height="1.48" fill="#bcbcbc"/>
<line x1="260.5" y1="337.62" x2="260.5" y2="342.78" stroke="#000" stroke-width="1.1"/>
<line x1="258.6" y1="337.5" x2="263" y2="337.5" stroke="#000" stroke-width="1.4"/>
<line x1="258.3" y1="342.5" x2="263.3" y2="342.5" stroke="#000" stroke-width="1.3"/>
<line x1="256.5" y1="371.8" x2="256.5" y2="375" stroke="#000" stroke-width="0.9"/>
<text transform="translate(258.25,377.8) rotate(-90)" font-size="9" font-weight="normal" text-anchor="end" stroke="#000" stroke-width="0.12">ANLN</text>
<ellipse cx="259.25" cy="332" rx="1.1" ry="0.95" fill="#1a1a1a"/>
<ellipse cx="262.35" cy="332" rx="1.1" ry="0.95" fill="#1a1a1a"/>
<rect x="270.85" y="307.3" width="6.7" height="64.5" fill="#000"/>
<rect x="279.7" y="326.65" width="5.7" height="45.15" fill="url(#hatch)" stroke="#000" stroke-width="1.3"/>
<line x1="279.55" y1="326.5" x2="285.55" y2="326.5" stroke="#000" stroke-width="1.4"/>
<line x1="278.5" y1="371.8" x2="278.5" y2="375" stroke="#000" stroke-width="0.9"/>
<text transform="translate(280,377.8) rotate(-90)" font-size="9" font-weight="normal" text-anchor="end" stroke="#000" stroke-width="0.12">PRC1</text>
<ellipse cx="282.55" cy="320.9" rx="1.1" ry="0.95" fill="#1a1a1a"/>
<rect x="292.6" y="307.3" width="6.7" height="64.5" fill="#000"/>
<rect x="301.45" y="299.56" width="5.7" height="72.23" fill="url(#hatch)" stroke="#000" stroke-width="1.3"/>
<rect x="301.9" y="300.02" width="4.8" height="15.67" fill="#bcbcbc"/>
<line x1="304.5" y1="282.15" x2="304.5" y2="315.69" stroke="#000" stroke-width="1.1"/>
<line x1="302.1" y1="282.5" x2="306.5" y2="282.5" stroke="#000" stroke-width="1.4"/>
<line x1="301.8" y1="315.5" x2="306.8" y2="315.5" stroke="#000" stroke-width="1.3"/>
<line x1="300.5" y1="371.8" x2="300.5" y2="375" stroke="#000" stroke-width="0.9"/>
<text transform="translate(301.75,377.8) rotate(-90)" font-size="9" font-weight="normal" text-anchor="end" stroke="#000" stroke-width="0.12">KIF23</text>
<rect x="314.35" y="307.3" width="6.7" height="64.5" fill="#000"/>
<rect x="323.2" y="327.3" width="5.7" height="44.5" fill="url(#hatch)" stroke="#000" stroke-width="1.3"/>
<rect x="323.65" y="327.75" width="4.8" height="4.06" fill="#bcbcbc"/>
<line x1="326.5" y1="321.49" x2="326.5" y2="331.81" stroke="#000" stroke-width="1.1"/>
<line x1="323.85" y1="321.5" x2="328.25" y2="321.5" stroke="#000" stroke-width="1.4"/>
<line x1="323.55" y1="331.5" x2="328.55" y2="331.5" stroke="#000" stroke-width="1.3"/>
<line x1="321.5" y1="371.8" x2="321.5" y2="375" stroke="#000" stroke-width="0.9"/>
<text transform="translate(323.5,377.8) rotate(-90)" font-size="9" font-weight="normal" text-anchor="end" stroke="#000" stroke-width="0.12">KIF4A</text>
<ellipse cx="326.05" cy="316.6" rx="1.1" ry="0.95" fill="#1a1a1a"/>
<line x1="28.1" y1="371.5" x2="333.5" y2="371.5" stroke="#000" stroke-width="1.3"/>
<text x="126.4" y="238.6" font-size="15.5" font-weight="bold" text-anchor="start" fill="#000" textLength="141.4" lengthAdjust="spacingAndGlyphs" >TLBR-2 BlackMamba</text>
<text x="269.3" y="233.7" font-size="7.6" font-weight="bold" text-anchor="start" fill="#000" textLength="11" lengthAdjust="spacingAndGlyphs" >KD</text>
<rect x="125" y="245.8" width="11.1" height="4.7" fill="#000"/>
<text x="141" y="250.7" font-size="6.5" font-weight="normal" text-anchor="start" fill="#000" textLength="13.2" lengthAdjust="spacingAndGlyphs" >CTR</text>
<rect x="198.7" y="246.4" width="10.1" height="3.9" fill="#fff" stroke="#000" stroke-width="1.2"/>
<text x="214" y="250.7" font-size="6.5" font-weight="normal" text-anchor="start" fill="#000" textLength="13.7" lengthAdjust="spacingAndGlyphs" >DOX</text>
<line x1="372.5" y1="242.7" x2="372.5" y2="372.1" stroke="#000" stroke-width="1.1"/>
<line x1="369" y1="371.5" x2="372.2" y2="371.5" stroke="#000" stroke-width="1"/>
<text x="368.6" y="374.1" font-size="7" font-weight="bold" text-anchor="end" fill="#000" >0.0</text>
<line x1="369" y1="339.5" x2="372.2" y2="339.5" stroke="#000" stroke-width="1"/>
<text x="368.6" y="342" font-size="7" font-weight="bold" text-anchor="end" fill="#000" >0.5</text>
<line x1="369" y1="307.5" x2="372.2" y2="307.5" stroke="#000" stroke-width="1"/>
<text x="368.6" y="309.9" font-size="7" font-weight="bold" text-anchor="end" fill="#000" >1.0</text>
<line x1="369" y1="275.5" x2="372.2" y2="275.5" stroke="#000" stroke-width="1"/>
<text x="368.6" y="277.8" font-size="7" font-weight="bold" text-anchor="end" fill="#000" >1.5</text>
<line x1="369" y1="243.5" x2="372.2" y2="243.5" stroke="#000" stroke-width="1"/>
<text x="368.6" y="245.7" font-size="7" font-weight="bold" text-anchor="end" fill="#000" >2.0</text>
<text transform="translate(352.6,307.4) rotate(-90)" font-size="7.2" font-weight="bold" text-anchor="middle" textLength="96.5" lengthAdjust="spacingAndGlyphs">Relative mRNA expression</text>
<rect x="375.6" y="307.4" width="6.7" height="64.2" fill="#000"/>
<rect x="384.45" y="344.64" width="5.7" height="26.96" fill="#ffffff" stroke="#000" stroke-width="1.3"/>
<rect x="384.9" y="345.09" width="4.8" height="4.04" fill="#bcbcbc"/>
<line x1="387.5" y1="338.86" x2="387.5" y2="349.13" stroke="#000" stroke-width="1.1"/>
<line x1="385.1" y1="338.5" x2="389.5" y2="338.5" stroke="#000" stroke-width="1.4"/>
<line x1="384.8" y1="349.5" x2="389.8" y2="349.5" stroke="#000" stroke-width="1.3"/>
<line x1="383.5" y1="371.6" x2="383.5" y2="374.8" stroke="#000" stroke-width="0.9"/>
<text transform="translate(387.65,377.5) rotate(-90)" font-size="9" font-weight="normal" text-anchor="end" stroke="#000" stroke-width="0.12">RHOA</text>
<ellipse cx="385.75" cy="331.9" rx="1.1" ry="0.95" fill="#1a1a1a"/>
<ellipse cx="388.85" cy="331.9" rx="1.1" ry="0.95" fill="#1a1a1a"/>
<rect x="397.4" y="307.4" width="6.7" height="64.2" fill="#000"/>
<rect x="406.25" y="322.82" width="5.7" height="48.78" fill="#ffffff" stroke="#000" stroke-width="1.3"/>
<rect x="406.7" y="323.27" width="4.8" height="0.83" fill="#bcbcbc"/>
<line x1="409.5" y1="320.24" x2="409.5" y2="324.09" stroke="#000" stroke-width="1.1"/>
<line x1="406.9" y1="320.5" x2="411.3" y2="320.5" stroke="#000" stroke-width="1.4"/>
<line x1="406.6" y1="324.5" x2="411.6" y2="324.5" stroke="#000" stroke-width="1.3"/>
<line x1="404.5" y1="371.6" x2="404.5" y2="374.8" stroke="#000" stroke-width="0.9"/>
<text transform="translate(409.45,377.5) rotate(-90)" font-size="9" font-weight="normal" text-anchor="end" stroke="#000" stroke-width="0.12">ECT2</text>
<ellipse cx="407.55" cy="314.4" rx="1.1" ry="0.95" fill="#1a1a1a"/>
<ellipse cx="410.65" cy="314.4" rx="1.1" ry="0.95" fill="#1a1a1a"/>
<rect x="419.2" y="307.4" width="6.7" height="64.2" fill="#000"/>
<rect x="428.05" y="342.4" width="5.7" height="29.2" fill="#ffffff" stroke="#000" stroke-width="1.3"/>
<rect x="428.5" y="342.85" width="4.8" height="3.07" fill="#bcbcbc"/>
<line x1="430.5" y1="337.57" x2="430.5" y2="345.92" stroke="#000" stroke-width="1.1"/>
<line x1="428.7" y1="337.5" x2="433.1" y2="337.5" stroke="#000" stroke-width="1.4"/>
<line x1="428.4" y1="345.5" x2="433.4" y2="345.5" stroke="#000" stroke-width="1.3"/>
<line x1="426.5" y1="371.6" x2="426.5" y2="374.8" stroke="#000" stroke-width="0.9"/>
<text transform="translate(431.25,377.5) rotate(-90)" font-size="9" font-weight="normal" text-anchor="end" stroke="#000" stroke-width="0.12">PLK1</text>
<ellipse cx="429.35" cy="331.9" rx="1.1" ry="0.95" fill="#1a1a1a"/>
<ellipse cx="432.45" cy="331.9" rx="1.1" ry="0.95" fill="#1a1a1a"/>
<rect x="441" y="307.4" width="6.7" height="64.2" fill="#000"/>
<rect x="449.85" y="362.94" width="5.7" height="8.66" fill="#ffffff" stroke="#000" stroke-width="1.3"/>
<line x1="449.7" y1="362.5" x2="455.7" y2="362.5" stroke="#000" stroke-width="1.4"/>
<line x1="448.5" y1="371.6" x2="448.5" y2="374.8" stroke="#000" stroke-width="0.9"/>
<text transform="translate(453.05,377.5) rotate(-90)" font-size="9" font-weight="normal" text-anchor="end" stroke="#000" stroke-width="0.12">PITPNM1</text>
<ellipse cx="451.15" cy="356.2" rx="1.1" ry="0.95" fill="#1a1a1a"/>
<ellipse cx="454.25" cy="356.2" rx="1.1" ry="0.95" fill="#1a1a1a"/>
<rect x="462.8" y="307.4" width="6.7" height="64.2" fill="#000"/>
<rect x="471.65" y="329.88" width="5.7" height="41.72" fill="#ffffff" stroke="#000" stroke-width="1.3"/>
<line x1="471.5" y1="329.5" x2="477.5" y2="329.5" stroke="#000" stroke-width="1.4"/>
<line x1="470.5" y1="371.6" x2="470.5" y2="374.8" stroke="#000" stroke-width="0.9"/>
<text transform="translate(474.85,377.5) rotate(-90)" font-size="9" font-weight="normal" text-anchor="end" stroke="#000" stroke-width="0.12">CDC42SE2</text>
<ellipse cx="472.95" cy="323" rx="1.1" ry="0.95" fill="#1a1a1a"/>
<ellipse cx="476.05" cy="323" rx="1.1" ry="0.95" fill="#1a1a1a"/>
<rect x="484.6" y="307.4" width="6.7" height="64.2" fill="#000"/>
<rect x="493.45" y="349.78" width="5.7" height="21.82" fill="#ffffff" stroke="#000" stroke-width="1.3"/>
<rect x="493.9" y="350.23" width="4.8" height="0.83" fill="#bcbcbc"/>
<line x1="496.5" y1="347.2" x2="496.5" y2="351.06" stroke="#000" stroke-width="1.1"/>
<line x1="494.1" y1="347.5" x2="498.5" y2="347.5" stroke="#000" stroke-width="1.4"/>
<line x1="493.8" y1="351.5" x2="498.8" y2="351.5" stroke="#000" stroke-width="1.3"/>
<line x1="492.5" y1="371.6" x2="492.5" y2="374.8" stroke="#000" stroke-width="0.9"/>
<text transform="translate(496.65,377.5) rotate(-90)" font-size="9" font-weight="normal" text-anchor="end" stroke="#000" stroke-width="0.12">KLHL21</text>
<ellipse cx="494.75" cy="341.7" rx="1.1" ry="0.95" fill="#1a1a1a"/>
<ellipse cx="497.85" cy="341.7" rx="1.1" ry="0.95" fill="#1a1a1a"/>
<rect x="506.4" y="307.4" width="6.7" height="64.2" fill="#000"/>
<rect x="515.25" y="332.45" width="5.7" height="39.15" fill="#ffffff" stroke="#000" stroke-width="1.3"/>
<rect x="515.7" y="332.9" width="4.8" height="3.39" fill="#bcbcbc"/>
<line x1="518.5" y1="327.3" x2="518.5" y2="336.29" stroke="#000" stroke-width="1.1"/>
<line x1="515.9" y1="327.5" x2="520.3" y2="327.5" stroke="#000" stroke-width="1.4"/>
<line x1="515.6" y1="336.5" x2="520.6" y2="336.5" stroke="#000" stroke-width="1.3"/>
<line x1="513.5" y1="371.6" x2="513.5" y2="374.8" stroke="#000" stroke-width="0.9"/>
<text transform="translate(518.45,377.5) rotate(-90)" font-size="9" font-weight="normal" text-anchor="end" stroke="#000" stroke-width="0.12">KIF20A</text>
<ellipse cx="516.55" cy="321.6" rx="1.1" ry="0.95" fill="#1a1a1a"/>
<ellipse cx="519.65" cy="321.6" rx="1.1" ry="0.95" fill="#1a1a1a"/>
<rect x="528.2" y="307.4" width="6.7" height="64.2" fill="#000"/>
<rect x="537.05" y="330.84" width="5.7" height="40.76" fill="url(#hatch)" stroke="#000" stroke-width="1.3"/>
<rect x="537.5" y="331.29" width="4.8" height="1.47" fill="#bcbcbc"/>
<line x1="539.5" y1="327.62" x2="539.5" y2="332.76" stroke="#000" stroke-width="1.1"/>
<line x1="537.7" y1="327.5" x2="542.1" y2="327.5" stroke="#000" stroke-width="1.4"/>
<line x1="537.4" y1="332.5" x2="542.4" y2="332.5" stroke="#000" stroke-width="1.3"/>
<line x1="535.5" y1="371.6" x2="535.5" y2="374.8" stroke="#000" stroke-width="0.9"/>
<text transform="translate(540.25,377.5) rotate(-90)" font-size="9" font-weight="normal" text-anchor="end" stroke="#000" stroke-width="0.12">RHOU</text>
<ellipse cx="538.35" cy="322.4" rx="1.1" ry="0.95" fill="#1a1a1a"/>
<ellipse cx="541.45" cy="322.4" rx="1.1" ry="0.95" fill="#1a1a1a"/>
<rect x="550" y="307.4" width="6.7" height="64.2" fill="#000"/>
<rect x="558.85" y="339.19" width="5.7" height="32.41" fill="url(#hatch)" stroke="#000" stroke-width="1.3"/>
<rect x="559.3" y="339.64" width="4.8" height="10.14" fill="#bcbcbc"/>
<line x1="561.5" y1="327.3" x2="561.5" y2="349.77" stroke="#000" stroke-width="1.1"/>
<line x1="559.5" y1="327.5" x2="563.9" y2="327.5" stroke="#000" stroke-width="1.4"/>
<line x1="559.2" y1="349.5" x2="564.2" y2="349.5" stroke="#000" stroke-width="1.3"/>
<line x1="557.5" y1="371.6" x2="557.5" y2="374.8" stroke="#000" stroke-width="0.9"/>
<text transform="translate(562.05,377.5) rotate(-90)" font-size="9" font-weight="normal" text-anchor="end" stroke="#000" stroke-width="0.12">PAK2</text>
<ellipse cx="561.7" cy="321" rx="1.1" ry="0.95" fill="#1a1a1a"/>
<rect x="571.8" y="307.4" width="6.7" height="64.2" fill="#000"/>
<rect x="580.65" y="329.56" width="5.7" height="42.04" fill="url(#hatch)" stroke="#000" stroke-width="1.3"/>
<rect x="581.1" y="330.01" width="4.8" height="0.18" fill="#bcbcbc"/>
<line x1="583.5" y1="327.62" x2="583.5" y2="330.19" stroke="#000" stroke-width="1.1"/>
<line x1="581.3" y1="327.5" x2="585.7" y2="327.5" stroke="#000" stroke-width="1.4"/>
<line x1="581" y1="330.5" x2="586" y2="330.5" stroke="#000" stroke-width="1.3"/>
<line x1="579.5" y1="371.6" x2="579.5" y2="374.8" stroke="#000" stroke-width="0.9"/>
<text transform="translate(583.85,377.5) rotate(-90)" font-size="9" font-weight="normal" text-anchor="end" stroke="#000" stroke-width="0.12">AURKB</text>
<ellipse cx="581.95" cy="322.4" rx="1.1" ry="0.95" fill="#1a1a1a"/>
<ellipse cx="585.05" cy="322.4" rx="1.1" ry="0.95" fill="#1a1a1a"/>
<rect x="593.6" y="307.4" width="6.7" height="64.2" fill="#000"/>
<rect x="602.45" y="342.72" width="5.7" height="28.88" fill="url(#hatch)" stroke="#000" stroke-width="1.3"/>
<line x1="602.3" y1="342.5" x2="608.3" y2="342.5" stroke="#000" stroke-width="1.4"/>
<line x1="601.5" y1="371.6" x2="601.5" y2="374.8" stroke="#000" stroke-width="0.9"/>
<text transform="translate(605.65,377.5) rotate(-90)" font-size="9" font-weight="normal" text-anchor="end" stroke="#000" stroke-width="0.12">ANLN</text>
<ellipse cx="603.75" cy="335" rx="1.1" ry="0.95" fill="#1a1a1a"/>
<ellipse cx="606.85" cy="335" rx="1.1" ry="0.95" fill="#1a1a1a"/>
<rect x="615.4" y="307.4" width="6.7" height="64.2" fill="#000"/>
<rect x="624.25" y="322.17" width="5.7" height="49.43" fill="url(#hatch)" stroke="#000" stroke-width="1.3"/>
<line x1="624.1" y1="321.5" x2="630.1" y2="321.5" stroke="#000" stroke-width="1.4"/>
<line x1="622.5" y1="371.6" x2="622.5" y2="374.8" stroke="#000" stroke-width="0.9"/>
<text transform="translate(627.45,377.5) rotate(-90)" font-size="9" font-weight="normal" text-anchor="end" stroke="#000" stroke-width="0.12">PRC1</text>
<ellipse cx="625.55" cy="315.6" rx="1.1" ry="0.95" fill="#1a1a1a"/>
<ellipse cx="628.65" cy="315.6" rx="1.1" ry="0.95" fill="#1a1a1a"/>
<rect x="637.2" y="307.4" width="6.7" height="64.2" fill="#000"/>
<rect x="646.05" y="287.51" width="5.7" height="84.09" fill="url(#hatch)" stroke="#000" stroke-width="1.3"/>
<line x1="645.9" y1="287.5" x2="651.9" y2="287.5" stroke="#000" stroke-width="1.4"/>
<line x1="644.5" y1="371.6" x2="644.5" y2="374.8" stroke="#000" stroke-width="0.9"/>
<text transform="translate(649.25,377.5) rotate(-90)" font-size="9" font-weight="normal" text-anchor="end" stroke="#000" stroke-width="0.12">KIF23</text>
<ellipse cx="647.35" cy="281" rx="1.1" ry="0.95" fill="#1a1a1a"/>
<ellipse cx="650.45" cy="281" rx="1.1" ry="0.95" fill="#1a1a1a"/>
<rect x="659" y="307.4" width="6.7" height="64.2" fill="#000"/>
<rect x="667.85" y="275.95" width="5.7" height="95.65" fill="url(#hatch)" stroke="#000" stroke-width="1.3"/>
<rect x="668.3" y="276.4" width="4.8" height="9.17" fill="#bcbcbc"/>
<line x1="670.5" y1="265.03" x2="670.5" y2="285.57" stroke="#000" stroke-width="1.1"/>
<line x1="668.5" y1="265.5" x2="672.9" y2="265.5" stroke="#000" stroke-width="1.4"/>
<line x1="668.2" y1="285.5" x2="673.2" y2="285.5" stroke="#000" stroke-width="1.3"/>
<line x1="666.5" y1="371.6" x2="666.5" y2="374.8" stroke="#000" stroke-width="0.9"/>
<text transform="translate(671.05,377.5) rotate(-90)" font-size="9" font-weight="normal" text-anchor="end" stroke="#000" stroke-width="0.12">KIF4A</text>
<ellipse cx="669.15" cy="260.8" rx="1.1" ry="0.95" fill="#1a1a1a"/>
<ellipse cx="672.25" cy="260.8" rx="1.1" ry="0.95" fill="#1a1a1a"/>
<line x1="371.7" y1="371.5" x2="676.1" y2="371.5" stroke="#000" stroke-width="1.3"/>
<text x="451.1" y="237.2" font-size="15.5" font-weight="bold" text-anchor="start" fill="#000" textLength="141.5" lengthAdjust="spacingAndGlyphs" >MAC2A BlackMamba</text>
<text x="594" y="232.3" font-size="7.6" font-weight="bold" text-anchor="start" fill="#000" textLength="11" lengthAdjust="spacingAndGlyphs" >KD</text>
<rect x="469.1" y="245.6" width="11.1" height="4.7" fill="#000"/>
<text x="485.1" y="250.5" font-size="6.5" font-weight="normal" text-anchor="start" fill="#000" textLength="13.2" lengthAdjust="spacingAndGlyphs" >CTR</text>
<rect x="542.8" y="246.2" width="10.1" height="3.9" fill="#fff" stroke="#000" stroke-width="1.2"/>
<text x="558.1" y="250.5" font-size="6.5" font-weight="normal" text-anchor="start" fill="#000" textLength="13.7" lengthAdjust="spacingAndGlyphs" >DOX</text>
<line x1="27.5" y1="446.8" x2="27.5" y2="576" stroke="#000" stroke-width="1.1"/>
<line x1="24.1" y1="575.5" x2="27.3" y2="575.5" stroke="#000" stroke-width="1"/>
<text x="23.7" y="578" font-size="7" font-weight="bold" text-anchor="end" fill="#000" >0</text>
<line x1="24.1" y1="543.5" x2="27.3" y2="543.5" stroke="#000" stroke-width="1"/>
<text x="23.7" y="545.95" font-size="7" font-weight="bold" text-anchor="end" fill="#000" >5</text>
<line x1="24.1" y1="511.5" x2="27.3" y2="511.5" stroke="#000" stroke-width="1"/>
<text x="23.7" y="513.9" font-size="7" font-weight="bold" text-anchor="end" fill="#000" >10</text>
<line x1="24.1" y1="479.5" x2="27.3" y2="479.5" stroke="#000" stroke-width="1"/>
<text x="23.7" y="481.85" font-size="7" font-weight="bold" text-anchor="end" fill="#000" >15</text>
<line x1="24.1" y1="447.5" x2="27.3" y2="447.5" stroke="#000" stroke-width="1"/>
<text x="23.7" y="449.8" font-size="7" font-weight="bold" text-anchor="end" fill="#000" >20</text>
<text transform="translate(12,511.4) rotate(-90)" font-size="7.2" font-weight="bold" text-anchor="middle" textLength="90" lengthAdjust="spacingAndGlyphs">Fold enrichment over IgG</text>
<rect x="39.2" y="551.46" width="13.5" height="24.04" fill="#000"/>
<line x1="45.5" y1="544.09" x2="45.5" y2="551.46" stroke="#000" stroke-width="0.9"/>
<line x1="42.25" y1="544.5" x2="49.65" y2="544.5" stroke="#000" stroke-width="1"/>
<line x1="45.5" y1="575.5" x2="45.5" y2="578.7" stroke="#000" stroke-width="0.9"/>
<text transform="translate(47.25,582.1) rotate(-90)" font-size="9" font-weight="normal" text-anchor="end" stroke="#000" stroke-width="0.12">RHOA</text>
<ellipse cx="45.15" cy="537.5" rx="1.2" ry="1.1" fill="#1a1a1a"/>
<rect x="61.54" y="558.19" width="13.5" height="17.31" fill="#000"/>
<line x1="68.5" y1="554.99" x2="68.5" y2="558.19" stroke="#000" stroke-width="0.9"/>
<line x1="64.59" y1="554.5" x2="71.99" y2="554.5" stroke="#000" stroke-width="1"/>
<line x1="68.5" y1="575.5" x2="68.5" y2="578.7" stroke="#000" stroke-width="0.9"/>
<text transform="translate(69.59,582.1) rotate(-90)" font-size="9" font-weight="normal" text-anchor="end" stroke="#000" stroke-width="0.12">ECT2</text>
<rect x="83.88" y="535.76" width="13.5" height="39.74" fill="#000"/>
<line x1="90.5" y1="529.03" x2="90.5" y2="535.76" stroke="#000" stroke-width="0.9"/>
<line x1="86.93" y1="529.5" x2="94.33" y2="529.5" stroke="#000" stroke-width="1"/>
<line x1="90.5" y1="575.5" x2="90.5" y2="578.7" stroke="#000" stroke-width="0.9"/>
<text transform="translate(91.93,582.1) rotate(-90)" font-size="9" font-weight="normal" text-anchor="end" stroke="#000" stroke-width="0.12">PLK1</text>
<ellipse cx="88.13" cy="523.5" rx="1.2" ry="1.1" fill="#1a1a1a"/>
<ellipse cx="91.53" cy="523.5" rx="1.2" ry="1.1" fill="#1a1a1a"/>
<rect x="106.22" y="530.95" width="13.5" height="44.55" fill="#000"/>
<line x1="112.5" y1="513.96" x2="112.5" y2="530.95" stroke="#000" stroke-width="0.9"/>
<line x1="109.27" y1="513.5" x2="116.67" y2="513.5" stroke="#000" stroke-width="1"/>
<line x1="112.5" y1="575.5" x2="112.5" y2="578.7" stroke="#000" stroke-width="0.9"/>
<text transform="translate(114.27,582.1) rotate(-90)" font-size="9" font-weight="normal" text-anchor="end" stroke="#000" stroke-width="0.12">PITPNM1</text>
<ellipse cx="110.47" cy="509.5" rx="1.2" ry="1.1" fill="#1a1a1a"/>
<ellipse cx="113.87" cy="509.5" rx="1.2" ry="1.1" fill="#1a1a1a"/>
<rect x="128.56" y="538.32" width="13.5" height="37.18" fill="#000"/>
<line x1="135.5" y1="533.19" x2="135.5" y2="538.32" stroke="#000" stroke-width="0.9"/>
<line x1="131.61" y1="533.5" x2="139.01" y2="533.5" stroke="#000" stroke-width="1"/>
<line x1="135.5" y1="575.5" x2="135.5" y2="578.7" stroke="#000" stroke-width="0.9"/>
<text transform="translate(136.61,582.1) rotate(-90)" font-size="9" font-weight="normal" text-anchor="end" stroke="#000" stroke-width="0.12">CDC42SE2</text>
<ellipse cx="132.81" cy="525.9" rx="1.2" ry="1.1" fill="#1a1a1a"/>
<ellipse cx="136.21" cy="525.9" rx="1.2" ry="1.1" fill="#1a1a1a"/>
<rect x="150.9" y="551.59" width="13.5" height="23.91" fill="#000"/>
<line x1="157.5" y1="546.98" x2="157.5" y2="551.59" stroke="#000" stroke-width="0.9"/>
<line x1="153.95" y1="546.5" x2="161.35" y2="546.5" stroke="#000" stroke-width="1"/>
<line x1="157.5" y1="575.5" x2="157.5" y2="578.7" stroke="#000" stroke-width="0.9"/>
<text transform="translate(158.95,582.1) rotate(-90)" font-size="9" font-weight="normal" text-anchor="end" stroke="#000" stroke-width="0.12">KLHL21</text>
<ellipse cx="156.85" cy="539.9" rx="1.2" ry="1.1" fill="#1a1a1a"/>
<rect x="173.24" y="512.68" width="13.5" height="62.82" fill="#000"/>
<line x1="179.5" y1="496.02" x2="179.5" y2="512.68" stroke="#000" stroke-width="0.9"/>
<line x1="176.29" y1="496.5" x2="183.69" y2="496.5" stroke="#000" stroke-width="1"/>
<line x1="179.5" y1="575.5" x2="179.5" y2="578.7" stroke="#000" stroke-width="0.9"/>
<text transform="translate(181.29,582.1) rotate(-90)" font-size="9" font-weight="normal" text-anchor="end" stroke="#000" stroke-width="0.12">KIF20A</text>
<ellipse cx="177.49" cy="490.8" rx="1.2" ry="1.1" fill="#1a1a1a"/>
<ellipse cx="180.89" cy="490.8" rx="1.2" ry="1.1" fill="#1a1a1a"/>
<rect x="195.58" y="550.5" width="13.5" height="25" fill="#000"/>
<line x1="202.5" y1="543.45" x2="202.5" y2="550.5" stroke="#000" stroke-width="0.9"/>
<line x1="198.63" y1="543.5" x2="206.03" y2="543.5" stroke="#000" stroke-width="1"/>
<line x1="202.5" y1="575.5" x2="202.5" y2="578.7" stroke="#000" stroke-width="0.9"/>
<text transform="translate(203.63,582.1) rotate(-90)" font-size="9" font-weight="normal" text-anchor="end" stroke="#000" stroke-width="0.12">RHOU</text>
<ellipse cx="201.53" cy="540.3" rx="1.2" ry="1.1" fill="#1a1a1a"/>
<rect x="217.92" y="550.5" width="13.5" height="25" fill="#000"/>
<line x1="224.5" y1="538.96" x2="224.5" y2="550.5" stroke="#000" stroke-width="0.9"/>
<line x1="220.97" y1="538.5" x2="228.37" y2="538.5" stroke="#000" stroke-width="1"/>
<line x1="224.5" y1="575.5" x2="224.5" y2="578.7" stroke="#000" stroke-width="0.9"/>
<text transform="translate(225.97,582.1) rotate(-90)" font-size="9" font-weight="normal" text-anchor="end" stroke="#000" stroke-width="0.12">PAK2</text>
<ellipse cx="223.87" cy="533.5" rx="1.2" ry="1.1" fill="#1a1a1a"/>
<rect x="240.26" y="533.58" width="13.5" height="41.92" fill="#000"/>
<line x1="247.5" y1="530.12" x2="247.5" y2="533.58" stroke="#000" stroke-width="0.9"/>
<line x1="243.31" y1="530.5" x2="250.71" y2="530.5" stroke="#000" stroke-width="1"/>
<line x1="247.5" y1="575.5" x2="247.5" y2="578.7" stroke="#000" stroke-width="0.9"/>
<text transform="translate(248.31,582.1) rotate(-90)" font-size="9" font-weight="normal" text-anchor="end" stroke="#000" stroke-width="0.12">AURKB</text>
<ellipse cx="244.51" cy="524.6" rx="1.2" ry="1.1" fill="#1a1a1a"/>
<ellipse cx="247.91" cy="524.6" rx="1.2" ry="1.1" fill="#1a1a1a"/>
<rect x="262.6" y="496.46" width="13.5" height="79.04" fill="#000"/>
<line x1="269.5" y1="484.48" x2="269.5" y2="496.46" stroke="#000" stroke-width="0.9"/>
<line x1="265.65" y1="484.5" x2="273.05" y2="484.5" stroke="#000" stroke-width="1"/>
<line x1="269.5" y1="575.5" x2="269.5" y2="578.7" stroke="#000" stroke-width="0.9"/>
<text transform="translate(270.65,582.1) rotate(-90)" font-size="9" font-weight="normal" text-anchor="end" stroke="#000" stroke-width="0.12">ANLN</text>
<ellipse cx="266.85" cy="479.5" rx="1.2" ry="1.1" fill="#1a1a1a"/>
<ellipse cx="270.25" cy="479.5" rx="1.2" ry="1.1" fill="#1a1a1a"/>
<rect x="284.94" y="546.01" width="13.5" height="29.49" fill="#000"/>
<line x1="291.5" y1="531.27" x2="291.5" y2="546.01" stroke="#000" stroke-width="0.9"/>
<line x1="287.99" y1="531.5" x2="295.39" y2="531.5" stroke="#000" stroke-width="1"/>
<line x1="291.5" y1="575.5" x2="291.5" y2="578.7" stroke="#000" stroke-width="0.9"/>
<text transform="translate(292.99,582.1) rotate(-90)" font-size="9" font-weight="normal" text-anchor="end" stroke="#000" stroke-width="0.12">P4_BlackMamba</text>
<ellipse cx="290.89" cy="526.7" rx="1.2" ry="1.1" fill="#1a1a1a"/>
<rect x="307.28" y="571.21" width="13.5" height="4.29" fill="#000"/>
<line x1="314.5" y1="575.5" x2="314.5" y2="578.7" stroke="#000" stroke-width="0.9"/>
<text transform="translate(315.33,582.1) rotate(-90)" font-size="9" font-weight="normal" text-anchor="end" stroke="#000" stroke-width="0.12">a-satellite</text>
<line x1="26.8" y1="575.5" x2="332.3" y2="575.5" stroke="#000" stroke-width="1.3"/>
<line x1="27.3" y1="569.5" x2="338.8" y2="569.5" stroke="#000" stroke-width="1"/>
<rect x="146.8" y="449.6" width="9.5" height="4.8" fill="#000"/>
<text x="159.9" y="456.2" font-size="14" font-weight="bold" text-anchor="start" fill="#000" textLength="49.7" lengthAdjust="spacingAndGlyphs" >TLBR-2</text>
<line x1="372.5" y1="447.2" x2="372.5" y2="576.2" stroke="#000" stroke-width="1.1"/>
<line x1="369.6" y1="575.5" x2="372.8" y2="575.5" stroke="#000" stroke-width="1"/>
<text x="369.2" y="578.2" font-size="7" font-weight="bold" text-anchor="end" fill="#000" >0</text>
<line x1="369.6" y1="550.5" x2="372.8" y2="550.5" stroke="#000" stroke-width="1"/>
<text x="369.2" y="552.6" font-size="7" font-weight="bold" text-anchor="end" fill="#000" >2</text>
<line x1="369.6" y1="524.5" x2="372.8" y2="524.5" stroke="#000" stroke-width="1"/>
<text x="369.2" y="527" font-size="7" font-weight="bold" text-anchor="end" fill="#000" >4</text>
<line x1="369.6" y1="498.5" x2="372.8" y2="498.5" stroke="#000" stroke-width="1"/>
<text x="369.2" y="501.4" font-size="7" font-weight="bold" text-anchor="end" fill="#000" >6</text>
<line x1="369.6" y1="473.5" x2="372.8" y2="473.5" stroke="#000" stroke-width="1"/>
<text x="369.2" y="475.8" font-size="7" font-weight="bold" text-anchor="end" fill="#000" >8</text>
<line x1="369.6" y1="447.5" x2="372.8" y2="447.5" stroke="#000" stroke-width="1"/>
<text x="369.2" y="450.2" font-size="7" font-weight="bold" text-anchor="end" fill="#000" >10</text>
<text transform="translate(357.9,511.7) rotate(-90)" font-size="7.2" font-weight="bold" text-anchor="middle" textLength="91" lengthAdjust="spacingAndGlyphs">Fold enrichment over IgG</text>
<rect x="384.6" y="493.64" width="14" height="82.06" fill="#3b5ea6" stroke="#000" stroke-width="1"/>
<line x1="391.5" y1="475.86" x2="391.5" y2="510.42" stroke="#000" stroke-width="0.9"/>
<line x1="387.9" y1="475.5" x2="395.3" y2="475.5" stroke="#000" stroke-width="1"/>
<line x1="387.9" y1="510.5" x2="395.3" y2="510.5" stroke="#000" stroke-width="1"/>
<line x1="391.5" y1="575.7" x2="391.5" y2="578.9" stroke="#000" stroke-width="0.9"/>
<text transform="translate(394.4,582.4) rotate(-90)" font-size="9" font-weight="normal" text-anchor="end" stroke="#000" stroke-width="0.12">RHOA</text>
<ellipse cx="389.1" cy="470.3" rx="1.2" ry="1.1" fill="#1a1a1a"/>
<ellipse cx="392.5" cy="470.3" rx="1.2" ry="1.1" fill="#1a1a1a"/>
<rect x="406.95" y="538.31" width="14" height="37.39" fill="#3b5ea6" stroke="#000" stroke-width="1"/>
<line x1="413.5" y1="532.31" x2="413.5" y2="543.32" stroke="#000" stroke-width="0.9"/>
<line x1="410.25" y1="532.5" x2="417.65" y2="532.5" stroke="#000" stroke-width="1"/>
<line x1="410.25" y1="543.5" x2="417.65" y2="543.5" stroke="#000" stroke-width="1"/>
<line x1="413.5" y1="575.7" x2="413.5" y2="578.9" stroke="#000" stroke-width="0.9"/>
<text transform="translate(416.75,582.4) rotate(-90)" font-size="9" font-weight="normal" text-anchor="end" stroke="#000" stroke-width="0.12">ECT2</text>
<ellipse cx="413.15" cy="525.2" rx="1.2" ry="1.1" fill="#1a1a1a"/>
<rect x="429.3" y="513.1" width="14" height="62.6" fill="#3b5ea6" stroke="#000" stroke-width="1"/>
<line x1="436.5" y1="510.55" x2="436.5" y2="514.64" stroke="#000" stroke-width="0.9"/>
<line x1="432.6" y1="510.5" x2="440" y2="510.5" stroke="#000" stroke-width="1"/>
<line x1="432.6" y1="514.5" x2="440" y2="514.5" stroke="#000" stroke-width="1"/>
<line x1="436.5" y1="575.7" x2="436.5" y2="578.9" stroke="#000" stroke-width="0.9"/>
<text transform="translate(439.1,582.4) rotate(-90)" font-size="9" font-weight="normal" text-anchor="end" stroke="#000" stroke-width="0.12">PLK1</text>
<ellipse cx="433.8" cy="504.4" rx="1.2" ry="1.1" fill="#1a1a1a"/>
<ellipse cx="437.2" cy="504.4" rx="1.2" ry="1.1" fill="#1a1a1a"/>
<rect x="451.65" y="542.92" width="14" height="32.78" fill="#3b5ea6" stroke="#000" stroke-width="1"/>
<line x1="458.5" y1="541.14" x2="458.5" y2="543.7" stroke="#000" stroke-width="0.9"/>
<line x1="454.95" y1="541.5" x2="462.35" y2="541.5" stroke="#000" stroke-width="1"/>
<line x1="454.95" y1="543.5" x2="462.35" y2="543.5" stroke="#000" stroke-width="1"/>
<line x1="458.5" y1="575.7" x2="458.5" y2="578.9" stroke="#000" stroke-width="0.9"/>
<text transform="translate(461.45,582.4) rotate(-90)" font-size="9" font-weight="normal" text-anchor="end" stroke="#000" stroke-width="0.12">PITPNM1</text>
<ellipse cx="456.15" cy="534" rx="1.2" ry="1.1" fill="#1a1a1a"/>
<ellipse cx="459.55" cy="534" rx="1.2" ry="1.1" fill="#1a1a1a"/>
<rect x="474" y="539.98" width="14" height="35.72" fill="#3b5ea6" stroke="#000" stroke-width="1"/>
<line x1="481.5" y1="534.1" x2="481.5" y2="544.85" stroke="#000" stroke-width="0.9"/>
<line x1="477.3" y1="534.5" x2="484.7" y2="534.5" stroke="#000" stroke-width="1"/>
<line x1="477.3" y1="544.5" x2="484.7" y2="544.5" stroke="#000" stroke-width="1"/>
<line x1="481.5" y1="575.7" x2="481.5" y2="578.9" stroke="#000" stroke-width="0.9"/>
<text transform="translate(483.8,582.4) rotate(-90)" font-size="9" font-weight="normal" text-anchor="end" stroke="#000" stroke-width="0.12">CDC42SE2</text>
<ellipse cx="480.2" cy="526.6" rx="1.2" ry="1.1" fill="#1a1a1a"/>
<rect x="496.35" y="510.15" width="14" height="65.55" fill="#3b5ea6" stroke="#000" stroke-width="1"/>
<line x1="503.5" y1="498.77" x2="503.5" y2="520.53" stroke="#000" stroke-width="0.9"/>
<line x1="499.65" y1="498.5" x2="507.05" y2="498.5" stroke="#000" stroke-width="1"/>
<line x1="499.65" y1="520.5" x2="507.05" y2="520.5" stroke="#000" stroke-width="1"/>
<line x1="503.5" y1="575.7" x2="503.5" y2="578.9" stroke="#000" stroke-width="0.9"/>
<text transform="translate(506.15,582.4) rotate(-90)" font-size="9" font-weight="normal" text-anchor="end" stroke="#000" stroke-width="0.12">KLHL21</text>
<ellipse cx="500.85" cy="493.2" rx="1.2" ry="1.1" fill="#1a1a1a"/>
<ellipse cx="504.25" cy="493.2" rx="1.2" ry="1.1" fill="#1a1a1a"/>
<rect x="518.7" y="530.12" width="14" height="45.58" fill="#3b5ea6" stroke="#000" stroke-width="1"/>
<line x1="525.5" y1="528.08" x2="525.5" y2="531.16" stroke="#000" stroke-width="0.9"/>
<line x1="522" y1="528.5" x2="529.4" y2="528.5" stroke="#000" stroke-width="1"/>
<line x1="522" y1="531.5" x2="529.4" y2="531.5" stroke="#000" stroke-width="1"/>
<line x1="525.5" y1="575.7" x2="525.5" y2="578.9" stroke="#000" stroke-width="0.9"/>
<text transform="translate(528.5,582.4) rotate(-90)" font-size="9" font-weight="normal" text-anchor="end" stroke="#000" stroke-width="0.12">KIF20A</text>
<ellipse cx="523.2" cy="520.7" rx="1.2" ry="1.1" fill="#1a1a1a"/>
<ellipse cx="526.6" cy="520.7" rx="1.2" ry="1.1" fill="#1a1a1a"/>
<rect x="541.05" y="553.67" width="14" height="22.03" fill="#3b5ea6" stroke="#000" stroke-width="1"/>
<line x1="548.5" y1="549.59" x2="548.5" y2="556.76" stroke="#000" stroke-width="0.9"/>
<line x1="544.35" y1="549.5" x2="551.75" y2="549.5" stroke="#000" stroke-width="1"/>
<line x1="544.35" y1="556.5" x2="551.75" y2="556.5" stroke="#000" stroke-width="1"/>
<line x1="548.5" y1="575.7" x2="548.5" y2="578.9" stroke="#000" stroke-width="0.9"/>
<text transform="translate(550.85,582.4) rotate(-90)" font-size="9" font-weight="normal" text-anchor="end" stroke="#000" stroke-width="0.12">RHOU</text>
<ellipse cx="547.25" cy="544.1" rx="1.2" ry="1.1" fill="#1a1a1a"/>
<rect x="563.4" y="505.93" width="14" height="69.77" fill="#3b5ea6" stroke="#000" stroke-width="1"/>
<line x1="570.5" y1="502.23" x2="570.5" y2="508.63" stroke="#000" stroke-width="0.9"/>
<line x1="566.7" y1="502.5" x2="574.1" y2="502.5" stroke="#000" stroke-width="1"/>
<line x1="566.7" y1="508.5" x2="574.1" y2="508.5" stroke="#000" stroke-width="1"/>
<line x1="570.5" y1="575.7" x2="570.5" y2="578.9" stroke="#000" stroke-width="0.9"/>
<text transform="translate(573.2,582.4) rotate(-90)" font-size="9" font-weight="normal" text-anchor="end" stroke="#000" stroke-width="0.12">PAK2</text>
<ellipse cx="567.9" cy="499.6" rx="1.2" ry="1.1" fill="#1a1a1a"/>
<ellipse cx="571.3" cy="499.6" rx="1.2" ry="1.1" fill="#1a1a1a"/>
<rect x="585.75" y="539.85" width="14" height="35.85" fill="#3b5ea6" stroke="#000" stroke-width="1"/>
<line x1="592.5" y1="533.72" x2="592.5" y2="544.98" stroke="#000" stroke-width="0.9"/>
<line x1="589.05" y1="533.5" x2="596.45" y2="533.5" stroke="#000" stroke-width="1"/>
<line x1="589.05" y1="544.5" x2="596.45" y2="544.5" stroke="#000" stroke-width="1"/>
<line x1="592.5" y1="575.7" x2="592.5" y2="578.9" stroke="#000" stroke-width="0.9"/>
<text transform="translate(595.55,582.4) rotate(-90)" font-size="9" font-weight="normal" text-anchor="end" stroke="#000" stroke-width="0.12">AURKB</text>
<ellipse cx="591.95" cy="530" rx="1.2" ry="1.1" fill="#1a1a1a"/>
<rect x="608.1" y="471.88" width="14" height="103.82" fill="#3b5ea6" stroke="#000" stroke-width="1"/>
<line x1="615.5" y1="470.36" x2="615.5" y2="472.4" stroke="#000" stroke-width="0.9"/>
<line x1="611.4" y1="470.5" x2="618.8" y2="470.5" stroke="#000" stroke-width="1"/>
<line x1="611.4" y1="472.5" x2="618.8" y2="472.5" stroke="#000" stroke-width="1"/>
<line x1="615.5" y1="575.7" x2="615.5" y2="578.9" stroke="#000" stroke-width="0.9"/>
<text transform="translate(617.9,582.4) rotate(-90)" font-size="9" font-weight="normal" text-anchor="end" stroke="#000" stroke-width="0.12">ANLN</text>
<ellipse cx="612.6" cy="464.9" rx="1.2" ry="1.1" fill="#1a1a1a"/>
<ellipse cx="616" cy="464.9" rx="1.2" ry="1.1" fill="#1a1a1a"/>
<rect x="630.45" y="540.36" width="14" height="35.34" fill="#3b5ea6" stroke="#000" stroke-width="1"/>
<line x1="637.5" y1="536.28" x2="637.5" y2="543.44" stroke="#000" stroke-width="0.9"/>
<line x1="633.75" y1="536.5" x2="641.15" y2="536.5" stroke="#000" stroke-width="1"/>
<line x1="633.75" y1="543.5" x2="641.15" y2="543.5" stroke="#000" stroke-width="1"/>
<line x1="637.5" y1="575.7" x2="637.5" y2="578.9" stroke="#000" stroke-width="0.9"/>
<text transform="translate(640.25,582.4) rotate(-90)" font-size="9" font-weight="normal" text-anchor="end" stroke="#000" stroke-width="0.12">P4_BlackMamba</text>
<ellipse cx="634.95" cy="530.3" rx="1.2" ry="1.1" fill="#1a1a1a"/>
<ellipse cx="638.35" cy="530.3" rx="1.2" ry="1.1" fill="#1a1a1a"/>
<rect x="652.8" y="562.5" width="14" height="13.2" fill="#3b5ea6" stroke="#000" stroke-width="1"/>
<line x1="656.1" y1="562.5" x2="663.5" y2="562.5" stroke="#000" stroke-width="1.3"/>
<line x1="659.5" y1="575.7" x2="659.5" y2="578.9" stroke="#000" stroke-width="0.9"/>
<text transform="translate(662.6,582.4) rotate(-90)" font-size="9" font-weight="normal" text-anchor="end" stroke="#000" stroke-width="0.12">a-satellite</text>
<line x1="372.3" y1="575.5" x2="678.1" y2="575.5" stroke="#000" stroke-width="1.3"/>
<line x1="372.8" y1="563.5" x2="683.7" y2="563.5" stroke="#000" stroke-width="1"/>
<rect x="493.5" y="450.4" width="9.7" height="4.6" fill="#3b5ea6" stroke="#000" stroke-width="0.9"/>
<text x="508" y="456.2" font-size="14" font-weight="bold" text-anchor="start" fill="#000" textLength="49.7" lengthAdjust="spacingAndGlyphs" >MAC2A</text>
<text x="0.9" y="13.7" font-size="18.6" font-weight="bold" text-anchor="start" fill="#000" >A</text>
<text x="0.8" y="227" font-size="18.2" font-weight="bold" text-anchor="start" fill="#000" >B</text>
<text x="1.9" y="435.6" font-size="18.2" font-weight="bold" text-anchor="start" fill="#000" >C</text>
</svg>
</body></html>
